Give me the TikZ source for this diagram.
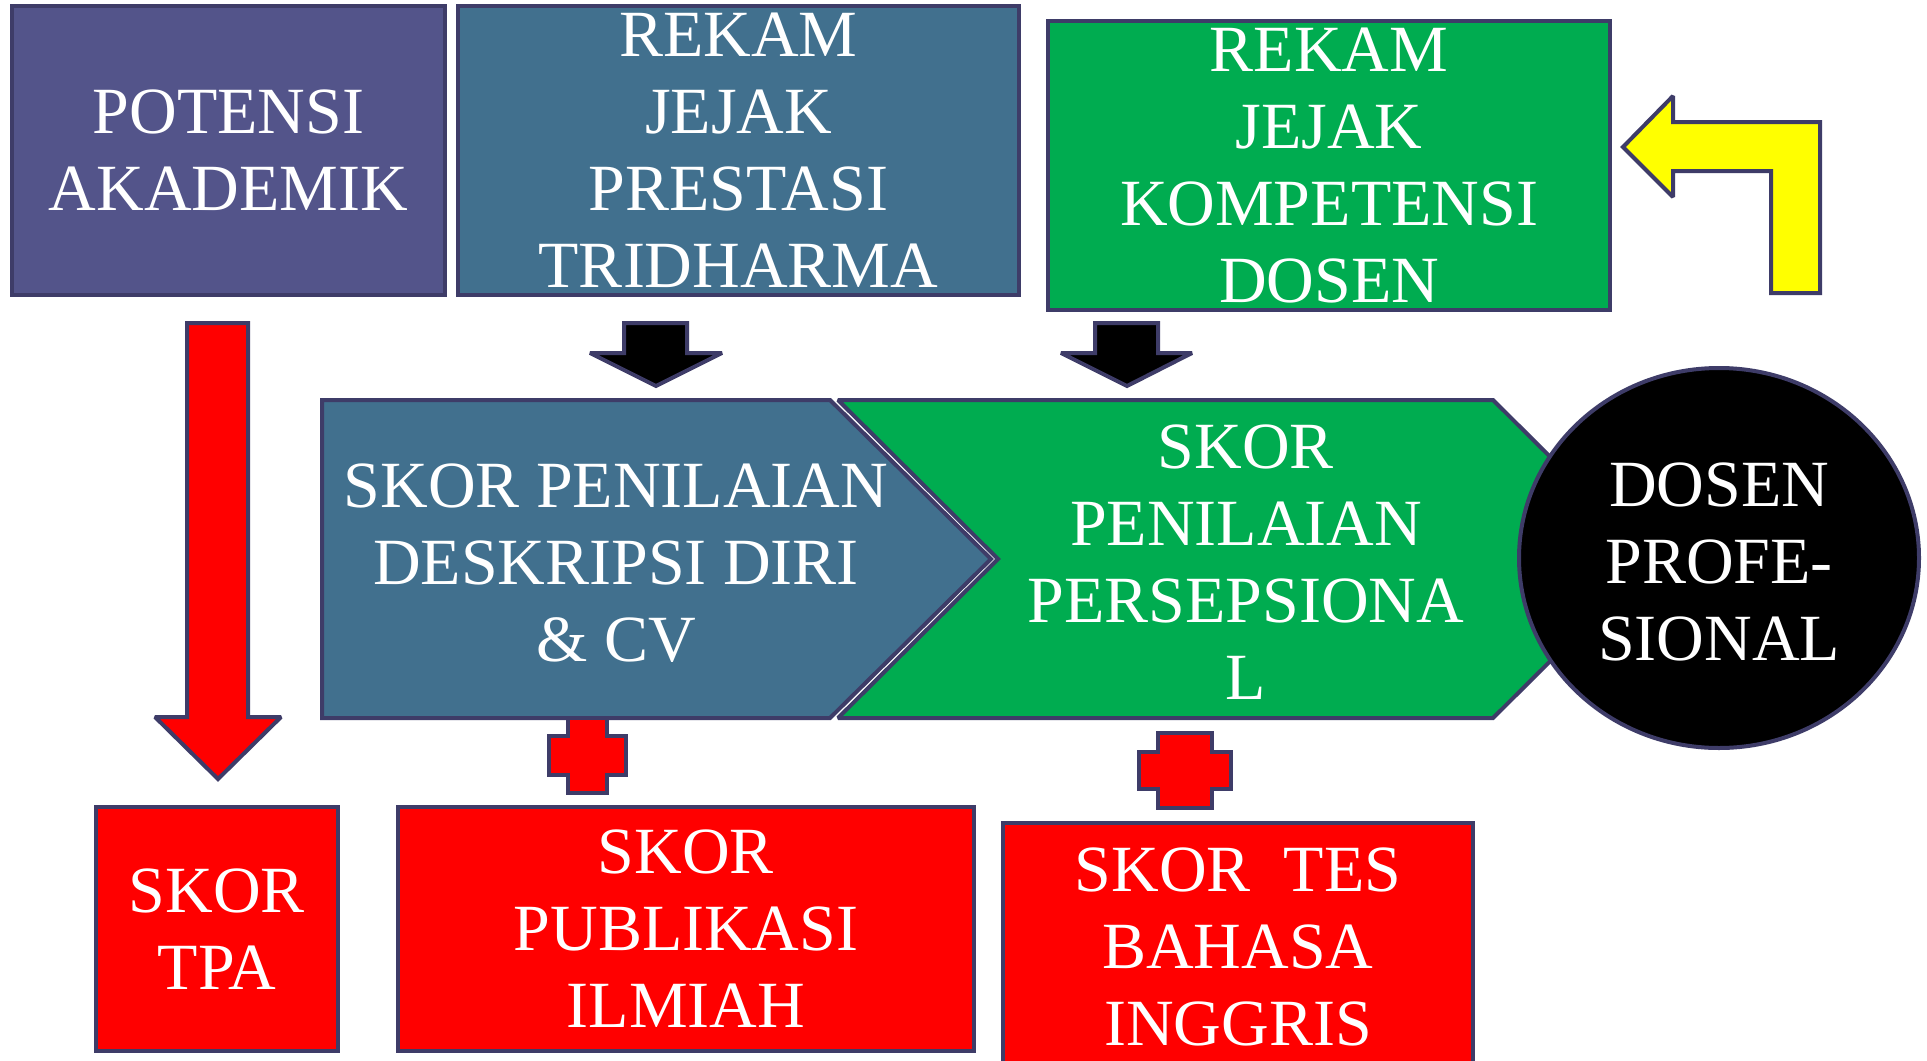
\documentclass[tikz,border=0pt]{standalone}
\usepackage{fontspec}
\setmainfont{Liberation Serif}
\usetikzlibrary{shapes.geometric}
\definecolor{cpurple}{RGB}{83,84,138}
\definecolor{cblue}{RGB}{65,112,142}
\definecolor{cgreen}{RGB}{0,172,80}
\definecolor{cred}{RGB}{255,0,0}
\definecolor{cyellow}{RGB}{255,255,0}
\definecolor{cline}{RGB}{62,60,104}
\tikzset{
  shapeline/.style={draw=cline, line width=4pt, line join=miter, miter limit=1.5},
  box/.style={shapeline, rectangle, inner sep=0pt, text=white, align=center,
    font=\fontsize{66}{77}\selectfont},
  lbl/.style={inner sep=0pt, text=white, align=center,
    font=\fontsize{66}{77}\selectfont},
}
\begin{document}
\begin{tikzpicture}[x=1pt,y=-1pt]
\useasboundingbox (0,0) rectangle (1927,1060);
\fill[white] (0,0) rectangle (1927,1060);

% top boxes
\node[box, fill=cpurple, minimum width=433pt, minimum height=289pt] (potensi) at (228.5,150.5) {\raisebox{-2pt}{\parbox{400pt}{\centering POTENSI\\AKADEMIK}}};
\node[box, fill=cblue, minimum width=561pt, minimum height=289pt] (tridharma) at (738.5,150.5) {\raisebox{-2pt}{\parbox{540pt}{\centering REKAM\\JEJAK\\PRESTASI\\TRIDHARMA}}};
\node[box, fill=cgreen, minimum width=562pt, minimum height=289pt] (kompetensi) at (1329,165.5) {\raisebox{-2pt}{\parbox{540pt}{\centering REKAM\\JEJAK\\KOMPETENSI\\DOSEN}}};

% yellow bent arrow
\draw[shapeline, fill=cyellow] (1623,147) -- (1673,96) -- (1673,122) -- (1820,122) -- (1820,293) -- (1771,293) -- (1771,171) -- (1673,171) -- (1673,197) -- cycle;

% red down arrow
\draw[shapeline, fill=cred] (187,323) -- (248,323) -- (248,717) -- (281,717) -- (218,779) -- (155,717) -- (187,717) -- cycle;

% black down arrows
\draw[shapeline, fill=black] (624,323) -- (687,323) -- (687,353) -- (722,353) -- (656,386) -- (590,353) -- (624,353) -- cycle;
\draw[shapeline, fill=black] (1095,323) -- (1158,323) -- (1158,353) -- (1192,353) -- (1127,386) -- (1061,353) -- (1095,353) -- cycle;

% chevrons
\draw[shapeline, fill=cgreen] (838,400) -- (1493,400) -- (1653,559) -- (1493,718) -- (838,718) -- (998,559) -- cycle;
\draw[shapeline, fill=cblue] (322,400) -- (830,400) -- (991,559) -- (830,718) -- (322,718) -- cycle;
\node[lbl] (deskripsi) at (616,563) {SKOR PENILAIAN\\DESKRIPSI DIRI\\\& CV};
\node[lbl] (persepsional) at (1246,562) {SKOR\\PENILAIAN\\PERSEPSIONA\\L};

% ellipse
\node[shapeline, ellipse, fill=black, minimum width=400pt, minimum height=380pt, inner sep=0pt] (dosen) at (1719,558) {};
\node[lbl] (dosentext) at (1719,562) {DOSEN\\PROFE-\\SIONAL};

% plus signs
\draw[shapeline, fill=cred] (568,718) -- (607,718) -- (607,736) -- (626,736) -- (626,775) -- (607,775) -- (607,793) -- (568,793) -- (568,775) -- (549,775) -- (549,736) -- (568,736) -- cycle;
\draw[shapeline, fill=cred] (1158,733) -- (1212,733) -- (1212,752) -- (1231,752) -- (1231,789) -- (1212,789) -- (1212,808) -- (1158,808) -- (1158,789) -- (1139,789) -- (1139,752) -- (1158,752) -- cycle;

% bottom boxes
\node[box, fill=cred, minimum width=242pt, minimum height=244pt] (tpa) at (217,929) {\raisebox{-2pt}{\parbox{230pt}{\centering SKOR\\TPA}}};
\node[box, fill=cred, minimum width=576pt, minimum height=244pt] (publikasi) at (686,929) {\raisebox{-2pt}{\parbox{540pt}{\centering SKOR\\PUBLIKASI\\ILMIAH}}};
\node[box, fill=cred, minimum width=470pt, minimum height=248pt] (bahasa) at (1238,947) {\raisebox{-2pt}{\parbox{450pt}{\centering SKOR~~TES\\BAHASA\\INGGRIS}}};
\end{tikzpicture}
\end{document}
